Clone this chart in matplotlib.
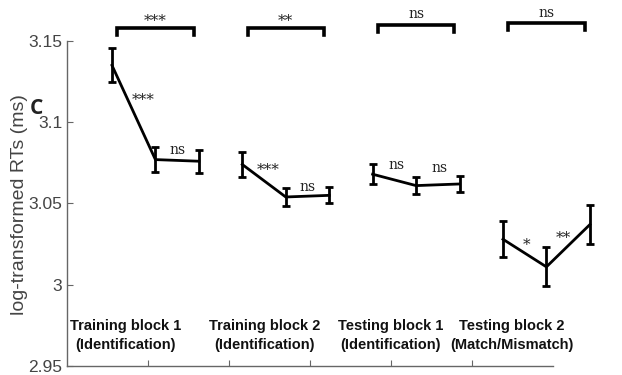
import numpy as np
import matplotlib.pyplot as plt

# mean log RTs per block (3 points each) and error bar half-widths
means = [3.135, 3.077, 3.076,
         3.074, 3.054, 3.055,
         3.068, 3.061, 3.062,
         3.028, 3.011, 3.037]
errs = [0.0105, 0.0075, 0.007,
        0.0075, 0.0055, 0.005,
        0.006, 0.005, 0.005,
        0.011, 0.012, 0.012]
blocks = ["Training block 1\n(Identification)", "Training block 2\n(Identification)",
          "Testing block 1\n(Identification)", "Testing block 2\n(Match/Mismatch)"]
pair_sig = ["***", "ns", "***", "ns", "ns", "ns", "*", "**"]
block_sig = ["***", "**", "ns", "ns"]

x = np.arange(1, 13)

fig = plt.figure(figsize=(6.22, 3.75), dpi=100)
ax = fig.add_axes([67/622, 9/375, 555/622, 366/375])

for b in range(4):
    xs = x[3*b:3*b+3]
    ys = means[3*b:3*b+3]
    es = errs[3*b:3*b+3]
    ax.errorbar(xs, ys, yerr=es, color='black', lw=2, elinewidth=2,
                capsize=3, capthick=2, clip_on=False)

# pairwise significance label positions
pair_x = [1.715, 2.52, 4.59, 5.49, 7.56, 8.55, 10.55, 11.40]
pair_y = [3.1135, 3.0829, 3.0705, 3.0602, 3.0737, 3.0718, 3.0243, 3.0286]
for lx, ly, lab in zip(pair_x, pair_y, pair_sig):
    ax.text(lx, ly, lab, ha='center', va='center', family='DejaVu Serif',
            fontsize=10 if lab == 'ns' else 11, color='#222222')

# block brackets
br_y = [3.158, 3.158, 3.1598, 3.161]
for b in range(4):
    x0 = x[3*b] + 0.12
    x1 = x[3*b+2] - 0.12
    y = br_y[b]
    ax.plot([x0, x0, x1, x1], [y - 0.0045, y, y, y - 0.0045], color='black',
            lw=2.6, clip_on=False, solid_joinstyle='miter')
    lab = block_sig[b]
    ax.text((x0 + x1) / 2, y + (0.0022 if lab == 'ns' else 0.0), lab,
            ha='center', va='bottom', family='DejaVu Serif',
            fontsize=10 if lab == 'ns' else 11, color='#222222')

# block labels
lab_x = [1.32, 4.52, 7.42, 10.2]
for b in range(4):
    ax.text(lab_x[b], 2.9685, blocks[b], ha='center', va='center',
            fontsize=10.5, fontweight='bold', family='Liberation Sans',
            linespacing=1.45, color='#111111')

ax.set_xlim(-0.035, 12.74)
ax.set_ylim(2.95, 3.1752)
ax.set_yticks([2.95, 3.0, 3.05, 3.1, 3.15])
ax.set_yticklabels(["2.95", "3", "3.05", "3.1", "3.15"])
ax.set_xticks(np.linspace(-0.035, 11.15, 7)[1:-1])
ax.set_xticklabels([])
ax.spines['top'].set_visible(False)
ax.spines['right'].set_visible(False)
ax.spines['left'].set_bounds(2.95, 3.15)
ax.spines['bottom'].set_bounds(-0.035, 11.15)
for s in ['left', 'bottom']:
    ax.spines[s].set_color('#666666')
    ax.spines[s].set_linewidth(1)
ax.tick_params(direction='in', colors='#666666', labelcolor='#444444',
               labelsize=12.5, length=4)
for t in ax.get_yticklabels():
    t.set_family('Liberation Sans')
ax.set_ylabel("log-transformed RTs (ms)", fontsize=14, color='#444444',
              family='Liberation Sans')
ax.yaxis.set_label_coords(-0.070, 0.44)

fig.text(30/622, 1 - 108/375, "C", fontsize=15, fontweight='bold',
         family='Open Sans', va='center', ha='left', color='#222222')

fig.savefig("out.png", dpi=100)
